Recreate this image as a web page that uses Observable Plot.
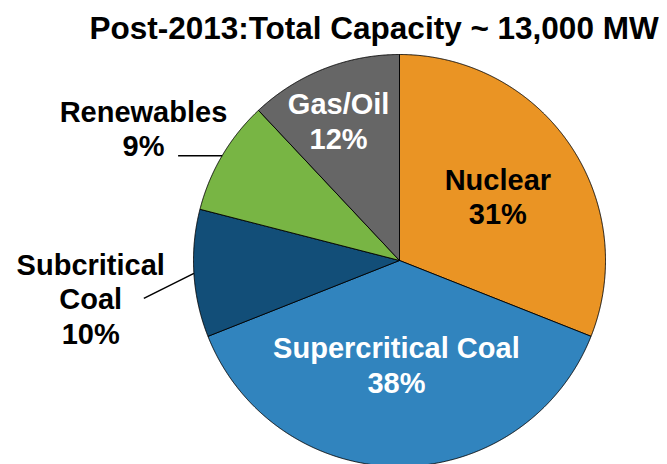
<!DOCTYPE html>
<html>
<head>
<meta charset="utf-8">
<script src="https://cdn.jsdelivr.net/npm/d3@7"></script>
<script src="https://cdn.jsdelivr.net/npm/@observablehq/plot@0.6"></script>
<style>
  html, body { margin: 0; padding: 0; background: #fff; overflow: hidden; }
  body { width: 667px; height: 464px; font-family: "Liberation Sans", Arial, sans-serif; }
  #title { height: 52px; line-height: 56px; font-size: 31.5px; font-weight: bold; color: #000;
           text-align: center; padding-left: 81px; white-space: nowrap; }
  svg { display: block; }
</style>
</head>
<body>
<div id="title">Post-2013:Total Capacity ~ 13,000 MW</div>
<div id="chart"></div>
<script>
// ---- data ----
const categories = ["Nuclear", "Supercritical Coal", "Subcritical Coal", "Renewables", "Gas/Oil"];
const shares = [31, 38, 10, 9, 12];            // percent
const labelNames = ["Nuclear", "Supercritical Coal", "Subcritical\nCoal", "Renewables", "Gas/Oil"];

// ---- styles / layout (not data) ----
const sliceColors = ["#EA9424", "#3184BE", "#124E78", "#78B544", "#666666"];
const textColors  = ["#000000", "#ffffff", "#000000", "#000000", "#ffffff"];
// label placement: radius factor and angle offset (deg) from the slice mid-angle
const labelR      = [0.57, 0.505, 1.51, 1.40, 0.741];
const labelDA     = [1.1, 1.7, -3.4, -3.2, -1.9];
// leader lines (outside labels): offset of the leader end from the slice edge, in radius units
const leaders = [null, null, [-0.243, -0.121], [-0.214, 0.0], null];

const W = 667, H = 412, R = 206, cx = 399, cy = 208;

const pie = d3.pie().sort(null).value(d => d)(shares);

const polys = [];
pie.forEach((p, i) => {
  const k = categories[i];
  polys.push({x: 0, y: 0, k});
  const n = Math.ceil((p.endAngle - p.startAngle) / 0.004);
  for (let j = 0; j <= n; j++) {
    const a = p.startAngle + (p.endAngle - p.startAngle) * j / n;
    polys.push({x: Math.sin(a), y: Math.cos(a), k});
  }
  polys.push({x: 0, y: 0, k});
});

const labels = pie.map((p, i) => {
  const a = (p.startAngle + p.endAngle) / 2 + labelDA[i] * Math.PI / 180;
  return {
    x: labelR[i] * Math.sin(a), y: labelR[i] * Math.cos(a),
    text: labelNames[i] + "\n" + shares[i] + "%",
    color: textColors[i]
  };
});

const links = [];
pie.forEach((p, i) => {
  if (!leaders[i]) return;
  const a = (p.startAngle + p.endAngle) / 2;
  const x1 = Math.sin(a), y1 = Math.cos(a);
  links.push({x1, y1, x2: x1 + leaders[i][0], y2: y1 + leaders[i][1]});
});

const chart = Plot.plot({
  width: W, height: H,
  margin: 0,
  x: {domain: [-cx / R, (W - cx) / R], range: [0, W], axis: null},
  y: {domain: [-(H - cy) / R, cy / R], range: [H, 0], axis: null},
  color: {domain: categories, range: sliceColors},
  style: {fontFamily: "Liberation Sans, Arial, sans-serif", background: "#fff", overflow: "hidden"},
  marks: [
    Plot.line(polys, {x: "x", y: "y", z: "k", fill: "k", stroke: "#000", strokeWidth: 0.9, strokeLinejoin: "round"}),
    Plot.link(links, {x1: "x1", y1: "y1", x2: "x2", y2: "y2", stroke: "#000", strokeWidth: 1.5}),
    Plot.text(labels, {x: "x", y: "y", text: "text", fill: "color", fontSize: 29, fontWeight: "bold",
                       lineAnchor: "middle", lineHeight: 1.18, textAnchor: "middle"})
  ]
});
document.getElementById("chart").appendChild(chart);
</script>
</body>
</html>
